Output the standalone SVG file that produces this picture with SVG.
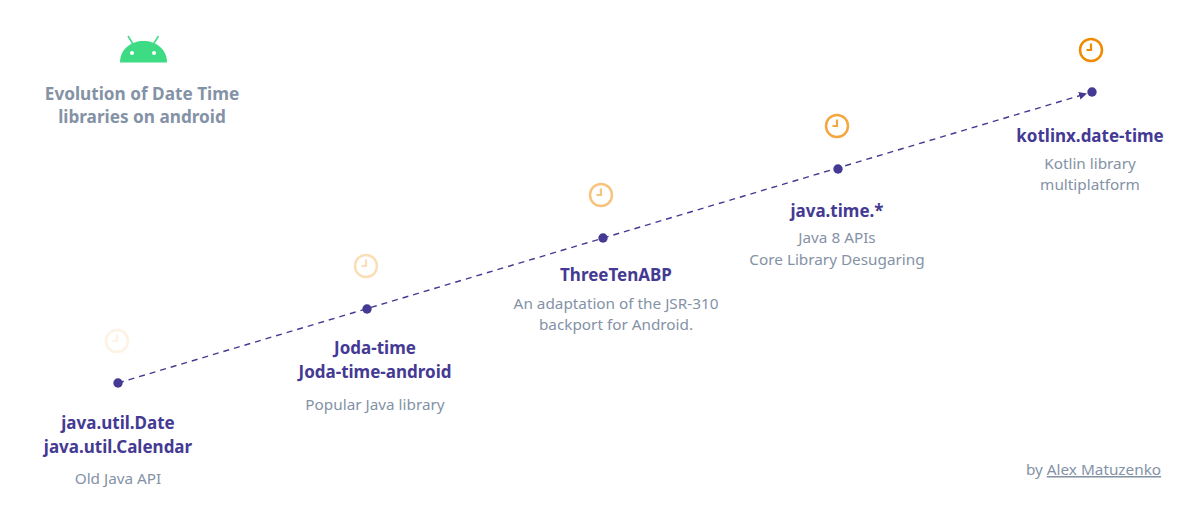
<svg xmlns="http://www.w3.org/2000/svg" width="1200" height="525" viewBox="0 0 1200 525">
<style>
text{font-family:"Noto Sans","Open Sans",sans-serif;text-anchor:middle}
.h{font-size:17px;font-weight:700;fill:#443A93}
.d{font-size:15.3px;fill:#8492A6}
.t{font-size:17.200px;font-weight:700;fill:#8492A6}
.dot{fill:#443A93}
.clock circle{fill:none;stroke:#F08A00;stroke-width:2.5}
.clock path{fill:none;stroke:#F08A00;stroke-width:2.200}
</style>
<defs>
<marker id="arrow" markerUnits="userSpaceOnUse" markerWidth="10" markerHeight="10" refX="8" refY="4" orient="auto"><path d="M0 0L8 4L0 8Z" fill="#443A93"/></marker>
<g id="clk" class="clock"><circle r="11"/><path d="M0 -6.500V0H-4.500"/></g>
</defs>
<rect width="1200" height="525" fill="#fff"/>
<g id="connectors"><line x1="118" y1="383" x2="1087" y2="93.500" stroke="#443A93" stroke-width="1.400" stroke-dasharray="6 5" marker-end="url(#arrow)"/></g>
<g id="header">
<path d="M120 62.500C120 49 131 41 143.500 41C156 41 167 49 167 62.500Z" fill="#3DDC84"/>
<path d="M128 36L133 44M158.500 36L153.500 44" stroke="#3DDC84" stroke-width="1.500" fill="none"/>
<circle cx="132" cy="53" r="2" fill="#fff"/><circle cx="154" cy="53" r="2" fill="#fff"/>
<text class="t" x="142" y="100">Evolution of Date Time</text>
<text class="t" x="142" y="123">libraries on android</text>
</g>
<g id="node-util">
<use href="#clk" x="117" y="341" opacity="0.1"/>
<circle class="dot" cx="118" cy="383" r="4.700"/>
<text class="h" x="118" y="429">java.util.Date</text>
<text class="h" x="118" y="453">java.util.Calendar</text>
<text class="d" x="118" y="484">Old Java API</text>
</g>
<g id="node-joda">
<use href="#clk" x="366" y="266" opacity="0.28"/>
<circle class="dot" cx="367" cy="309" r="4.700"/>
<text class="h" x="375" y="354">Joda-time</text>
<text class="h" x="375" y="378">Joda-time-android</text>
<text class="d" x="375" y="410">Popular Java library</text>
</g>
<g id="node-three">
<use href="#clk" x="601" y="195" opacity="0.5"/>
<circle class="dot" cx="603" cy="238" r="4.700"/>
<text class="h" x="616" y="281">ThreeTenABP</text>
<text class="d" x="616" y="309">An adaptation of the JSR-310</text>
<text class="d" x="616" y="330">backport for Android.</text>
</g>
<g id="node-javatime">
<use href="#clk" x="837" y="126" opacity="0.75"/>
<circle class="dot" cx="838" cy="169" r="4.700"/>
<text class="h" x="837" y="217">java.time.*</text>
<text class="d" x="837" y="243">Java 8 APIs</text>
<text class="d" x="837" y="265">Core Library Desugaring</text>
</g>
<g id="node-kotlinx">
<use href="#clk" x="1091" y="50"/>
<circle class="dot" cx="1092" cy="92" r="4.700"/>
<text class="h" x="1090" y="142">kotlinx.date-time</text>
<text class="d" x="1090" y="169">Kotlin library</text>
<text class="d" x="1090" y="190">multiplatform</text>
</g>
<g id="credit">
<text class="d" x="1093.500" y="475">by <tspan text-decoration="underline">Alex Matuzenko</tspan></text>
</g>
</svg>
